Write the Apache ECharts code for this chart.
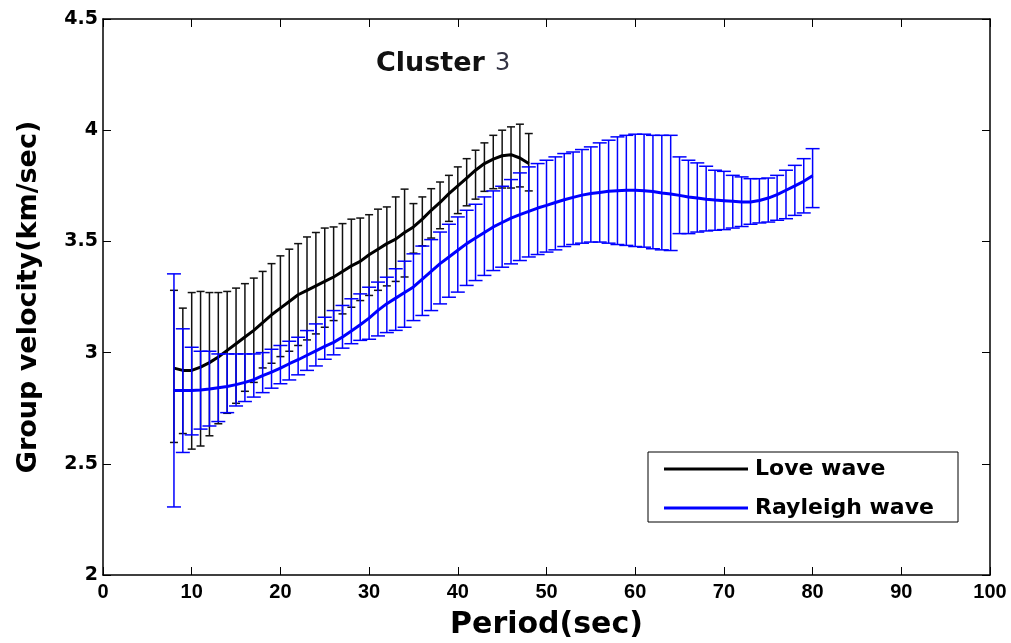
<!DOCTYPE html>
<html>
<head>
<meta charset="utf-8">
<script src="https://cdn.jsdelivr.net/npm/echarts@6/dist/echarts.min.js"></script>
<style>
html, body { margin: 0; padding: 0; background: #fff; }
#chart { width: 1011px; height: 643px; }
</style>
</head>
<body>
<div id="chart"></div>
<script>
// Love wave: period, mean velocity, error bar low / high
var lovePeriod = [8, 9, 10, 11, 12, 13, 14, 15, 16, 17, 18, 19, 20, 21, 22, 23, 24, 25, 26, 27, 28,
    29, 30, 31, 32, 33, 34, 35, 36, 37, 38, 39, 40, 41, 42, 43, 44, 45, 46, 47, 48];
var loveVel = [2.93, 2.92, 2.92, 2.935, 2.955, 2.98, 3.01, 3.04, 3.07, 3.10, 3.135, 3.17, 3.20, 3.23, 3.26,
    3.28, 3.30, 3.32, 3.34, 3.365, 3.39, 3.41, 3.44, 3.465, 3.49, 3.51, 3.54, 3.565, 3.60, 3.64, 3.675,
    3.715, 3.75, 3.785, 3.82, 3.85, 3.87, 3.885, 3.89, 3.875, 3.85];
var loveLow = [2.596, 2.636, 2.566, 2.58, 2.626, 2.68, 2.727, 2.772, 2.826, 2.866, 2.931, 2.952, 2.982,
    3.006, 3.032, 3.057, 3.084, 3.114, 3.144, 3.174, 3.204, 3.234, 3.257, 3.28, 3.30, 3.32, 3.34, 3.447,
    3.48, 3.515, 3.557, 3.59, 3.625, 3.66, 3.69, 3.725, 3.737, 3.74, 3.74, 3.745, 3.727];
var loveHigh = [3.28, 3.20, 3.27, 3.275, 3.27, 3.27, 3.275, 3.29, 3.31, 3.335, 3.365, 3.40, 3.435, 3.465,
    3.49, 3.52, 3.54, 3.56, 3.565, 3.58, 3.60, 3.605, 3.62, 3.645, 3.655, 3.70, 3.735, 3.67, 3.70, 3.737,
    3.767, 3.797, 3.835, 3.872, 3.91, 3.943, 3.977, 4.0, 4.015, 4.027, 3.985];

// Rayleigh wave
var rayPeriod = [8, 9, 10, 11, 12, 13, 14, 15, 16, 17, 18, 19, 20, 21, 22, 23, 24, 25, 26, 27, 28, 29,
    30, 31, 32, 33, 34, 35, 36, 37, 38, 39, 40, 41, 42, 43, 44, 45, 46, 47, 48, 49, 50, 51, 52, 53, 54,
    55, 56, 57, 58, 59, 60, 61, 62, 63, 64, 65, 66, 67, 68, 69, 70, 71, 72, 73, 74, 75, 76, 77, 78, 79, 80];
var rayVel = [2.83, 2.83, 2.83, 2.832, 2.836, 2.842, 2.848, 2.856, 2.866, 2.878, 2.896, 2.912, 2.93, 2.95,
    2.968, 2.988, 3.008, 3.028, 3.046, 3.07, 3.097, 3.125, 3.155, 3.19, 3.22, 3.245, 3.27, 3.295, 3.33,
    3.365, 3.40, 3.43, 3.46, 3.49, 3.515, 3.54, 3.565, 3.585, 3.605, 3.62, 3.635, 3.65, 3.662, 3.675,
    3.687, 3.698, 3.708, 3.715, 3.72, 3.725, 3.728, 3.73, 3.73, 3.728, 3.724, 3.718, 3.713, 3.707, 3.70,
    3.695, 3.69, 3.686, 3.683, 3.68, 3.677, 3.677, 3.684, 3.695, 3.71, 3.73, 3.75, 3.77, 3.795];
var rayLow = [2.306, 2.551, 2.63, 2.656, 2.67, 2.69, 2.73, 2.76, 2.78, 2.80, 2.82, 2.84, 2.86, 2.877,
    2.90, 2.92, 2.94, 2.97, 2.99, 3.02, 3.04, 3.055, 3.06, 3.075, 3.09, 3.10, 3.114, 3.144, 3.167, 3.189,
    3.219, 3.249, 3.272, 3.302, 3.324, 3.347, 3.369, 3.384, 3.399, 3.414, 3.43, 3.441, 3.452, 3.462,
    3.477, 3.486, 3.492, 3.497, 3.497, 3.492, 3.486, 3.482, 3.477, 3.474, 3.467, 3.462, 3.459, 3.535,
    3.535, 3.542, 3.547, 3.55, 3.553, 3.56, 3.567, 3.577, 3.583, 3.587, 3.595, 3.602, 3.617, 3.628, 3.652];
var rayHigh = [3.354, 3.107, 3.024, 3.006, 3.006, 2.994, 2.994, 2.994, 2.994, 2.994, 3.0, 3.015, 3.032,
    3.051, 3.069, 3.099, 3.129, 3.159, 3.189, 3.212, 3.242, 3.264, 3.294, 3.317, 3.339, 3.377, 3.411,
    3.444, 3.479, 3.508, 3.542, 3.577, 3.61, 3.64, 3.667, 3.70, 3.727, 3.748, 3.778, 3.808, 3.835, 3.85,
    3.865, 3.88, 3.895, 3.902, 3.913, 3.925, 3.943, 3.955, 3.97, 3.977, 3.982, 3.982, 3.977, 3.977,
    3.977, 3.88, 3.865, 3.853, 3.838, 3.82, 3.815, 3.797, 3.79, 3.782, 3.782, 3.785, 3.797, 3.82, 3.842,
    3.872, 3.917];

function pairs(xs, ys) {
    var out = [];
    for (var i = 0; i < xs.length; i++) out.push([xs[i], ys[i]]);
    return out;
}
function triples(xs, lo, hi) {
    var out = [];
    for (var i = 0; i < xs.length; i++) out.push([xs[i], lo[i], hi[i]]);
    return out;
}
// draws one error bar: vertical stem plus two caps
function errorBar(capHalf, width) {
    return function (params, api) {
        var x = api.value(0);
        var lo = api.coord([x, api.value(1)]);
        var hi = api.coord([x, api.value(2)]);
        var style = { stroke: api.visual('color'), lineWidth: width };
        return {
            type: 'group',
            children: [
                { type: 'line', shape: { x1: lo[0], y1: lo[1], x2: hi[0], y2: hi[1] }, style: style },
                { type: 'line', shape: { x1: hi[0] - capHalf, y1: hi[1], x2: hi[0] + capHalf, y2: hi[1] }, style: style },
                { type: 'line', shape: { x1: lo[0] - capHalf, y1: lo[1], x2: lo[0] + capHalf, y2: lo[1] }, style: style }
            ]
        };
    };
}

var frame = { onZero: false, lineStyle: { color: '#000', width: 1.5 } };
var inTick = { inside: true, length: 8, lineStyle: { color: '#000' } };
var chart = echarts.init(document.getElementById('chart'));
var option = {
    animation: false,
    backgroundColor: '#fff',
    title: {
        text: '{a|Cluster}  {b|3}',
        left: 376,
        top: 50,
        padding: 0,
        textStyle: {
            rich: {
                a: { fontFamily: 'DejaVu Sans', fontWeight: 'bold', fontSize: 27, color: '#111' },
                b: { fontFamily: 'DejaVu Sans', fontWeight: 'normal', fontSize: 24, color: '#334' }
            }
        }
    },
    grid: { left: 103, right: 21, top: 19, bottom: 68, outerBoundsMode: 'none' },
    legend: {
        data: ['Love wave', 'Rayleigh wave'],
        orient: 'vertical',
        left: 664,
        top: 458,
        padding: 0,
        icon: 'rect',
        itemWidth: 84,
        itemHeight: 3,
        itemGap: 17,
        textStyle: { fontFamily: 'DejaVu Sans', fontWeight: 'bold', fontSize: 22, color: '#000', padding: [0, 0, 0, 2] }
    },
    graphic: [{
        type: 'rect',
        shape: { x: 648, y: 452, width: 310, height: 70 },
        style: { fill: 'none', stroke: '#000', lineWidth: 1 },
        z: 100
    }],
    xAxis: [{
        type: 'value', min: 0, max: 100, interval: 10,
        name: 'Period(sec)', nameLocation: 'middle', nameGap: 35,
        nameTextStyle: { fontFamily: 'DejaVu Sans', fontWeight: 'bold', fontSize: 30, color: '#000' },
        axisLine: frame,
        axisTick: inTick,
        axisLabel: { fontFamily: 'Liberation Sans', fontWeight: 'bold', fontSize: 20, color: '#000', margin: 7 },
        splitLine: { show: false }
    }, {
        type: 'value', min: 0, max: 100, interval: 10, position: 'top',
        axisLine: frame,
        axisTick: inTick,
        axisLabel: { show: false },
        splitLine: { show: false }
    }],
    yAxis: [{
        type: 'value', min: 2, max: 4.5, interval: 0.5,
        name: 'Group velocity(km/sec)', nameLocation: 'middle', nameGap: 61,
        nameTextStyle: { fontFamily: 'DejaVu Sans', fontWeight: 'bold', fontSize: 27, color: '#000' },
        axisLine: frame,
        axisTick: inTick,
        axisLabel: { fontFamily: 'DejaVu Sans', fontWeight: 'bold', fontSize: 19, color: '#000', margin: 5 },
        splitLine: { show: false }
    }, {
        type: 'value', min: 2, max: 4.5, interval: 0.5, position: 'right',
        axisLine: frame,
        axisTick: inTick,
        axisLabel: { show: false },
        splitLine: { show: false }
    }],
    series: [{
        name: 'Love err',
        type: 'custom',
        renderItem: errorBar(4, 1.5),
        itemStyle: { color: '#111' },
        encode: { x: 0, y: [1, 2] },
        data: triples(lovePeriod, loveLow, loveHigh),
        z: 2
    }, {
        name: 'Love wave',
        type: 'line',
        symbol: 'none',
        color: '#000',
        lineStyle: { color: '#000', width: 3 },
        data: pairs(lovePeriod, loveVel),
        z: 3
    }, {
        name: 'Rayleigh err',
        type: 'custom',
        renderItem: errorBar(7, 1.5),
        itemStyle: { color: '#0000ff' },
        encode: { x: 0, y: [1, 2] },
        data: triples(rayPeriod, rayLow, rayHigh),
        z: 4
    }, {
        name: 'Rayleigh wave',
        type: 'line',
        symbol: 'none',
        color: '#0000ff',
        lineStyle: { color: '#0000ff', width: 3 },
        data: pairs(rayPeriod, rayVel),
        z: 5
    }]
};
chart.setOption(option);
</script>
</body>
</html>
